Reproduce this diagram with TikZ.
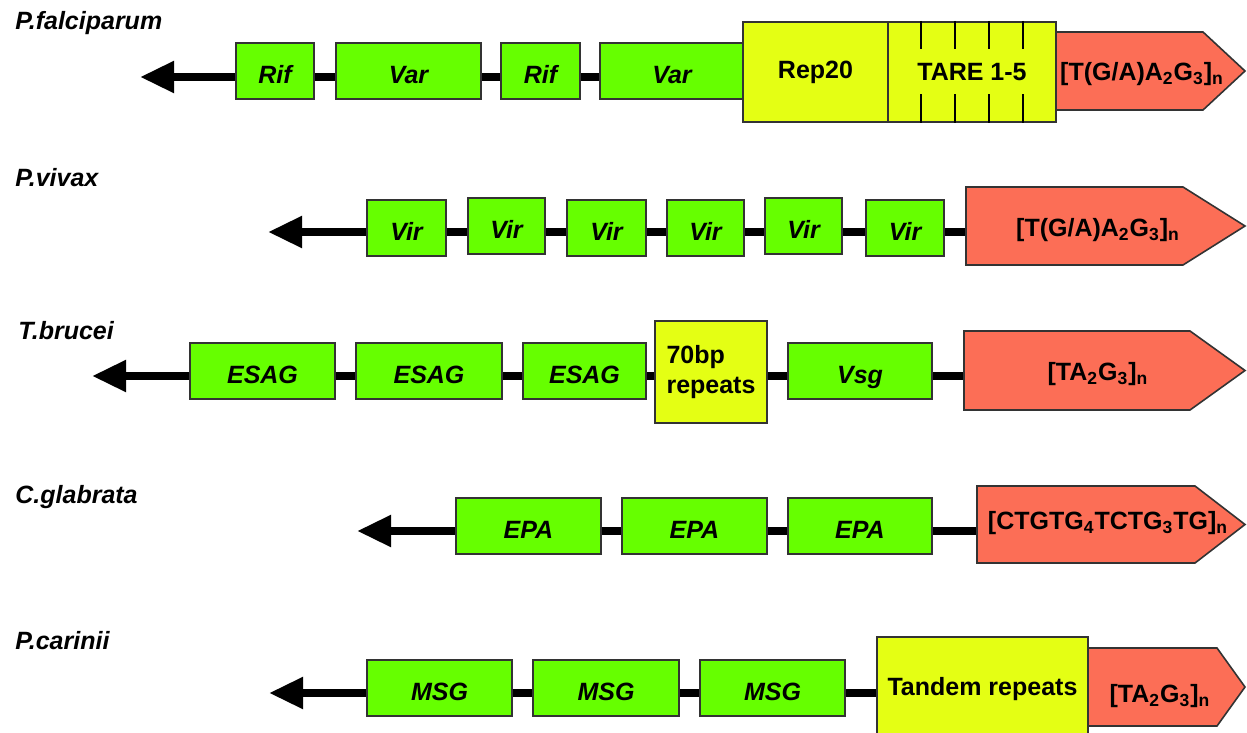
\documentclass[tikz,border=0pt]{standalone}
\usepackage{fontspec}
\setmainfont{Liberation Sans}
\usetikzlibrary{arrows.meta,calc,backgrounds}
\definecolor{genegreen}{RGB}{102,255,0}
\definecolor{repyellow}{RGB}{228,255,20}
\definecolor{telored}{RGB}{252,110,86}
\newcommand{\telrep}[1]{[#1]\textsubscript{n}}

\begin{document}
\begin{tikzpicture}[x=0.5pt,y=-0.5pt,
    species/.style={anchor=base west, inner sep=0pt, font=\fontsize{12.5}{15}\selectfont\bfseries\itshape},
    gene/.style={draw=black!80, line width=1pt, fill=genegreen, inner sep=0pt, minimum height=28pt,
        text height=12.5pt, text depth=0pt, font=\fontsize{12.5}{15}\selectfont\bfseries\itshape},
    repeatbox/.style={draw=black!80, line width=1pt, fill=repyellow, inner sep=0pt,
        font=\fontsize{12.5}{15}\selectfont\bfseries},
    telo/.style={draw=black!80, line width=0.8pt, fill=telored},
    telotext/.style={inner sep=0pt, font=\fontsize{12.5}{15}\selectfont\bfseries},
    backbone/.style={line width=4pt, black},
    chromend/.style={backbone, -{Triangle[length=17pt,width=15pt]}}]
    \useasboundingbox (0,0) rectangle (1247,733);

    % P.falciparum
    \node[species] (s1) at (15,30) {P.falciparum};
    \coordinate (a1) at (140,77);
    \node[gene, minimum width=39pt]   (g11) at (275,71)   {Rif};
    \node[gene, minimum width=72.5pt] (g12) at (408.5,71) {Var};
    \node[gene, minimum width=39.5pt] (g13) at (540.5,71) {Rif};
    \node[gene, minimum width=72pt]   (g14) at (672,71)   {Var};
    \node[repeatbox, minimum width=72.5pt, minimum height=50pt] (rep1) at (815.5,72) {Rep20};
    \node[repeatbox, minimum width=84pt, minimum height=50pt] (tare) at (972,72) {TARE 1-5};
    \foreach \t in {1,...,4} {
        \draw[line width=0.8pt] ($(tare.north west)!\t/5!(tare.north east)$) -- +(0,28);
        \draw[line width=0.8pt] ($(tare.south west)!\t/5!(tare.south east)$) -- +(0,-29);
    }
    \draw[telo] (1056,32) -- (1203,32) -- (1245,71) -- (1203,110) -- (1056,110) -- cycle;
    \node[telotext] (t1) at (1142,74) {\telrep{T(G/A)A\textsubscript{2}G\textsubscript{3}}};
    \begin{scope}[on background layer]
        \draw[chromend] (g11.west |- a1) -- (a1);
        \draw[backbone] (g11.east |- a1) -- (g12.west |- a1);
        \draw[backbone] (g12.east |- a1) -- (g13.west |- a1);
        \draw[backbone] (g13.east |- a1) -- (g14.west |- a1);
    \end{scope}

    % P.vivax
    \node[species] (s2) at (15,186) {P.vivax};
    \coordinate (a2) at (268,232);
    \node[gene, minimum width=39.5pt] (v1) at (406.5,228) {Vir};
    \node[gene, minimum width=38.5pt] (v2) at (506.5,225.5) {Vir};
    \node[gene, minimum width=39.5pt] (v3) at (606.5,228) {Vir};
    \node[gene, minimum width=38.5pt] (v4) at (705.5,228) {Vir};
    \node[gene, minimum width=38.5pt] (v5) at (803.5,225.5) {Vir};
    \node[gene, minimum width=39pt]   (v6) at (905,228)   {Vir};
    \draw[telo] (966,187) -- (1183,187) -- (1245,226) -- (1183,265) -- (966,265) -- cycle;
    \coordinate (r2) at (966,232);
    \node[telotext] (t2) at (1098,230) {\telrep{T(G/A)A\textsubscript{2}G\textsubscript{3}}};
    \begin{scope}[on background layer]
        \draw[chromend] (v1.west |- a2) -- (a2);
        \draw[backbone] (v1.east |- a2) -- (v2.west |- a2);
        \draw[backbone] (v2.east |- a2) -- (v3.west |- a2);
        \draw[backbone] (v3.east |- a2) -- (v4.west |- a2);
        \draw[backbone] (v4.east |- a2) -- (v5.west |- a2);
        \draw[backbone] (v5.east |- a2) -- (v6.west |- a2);
        \draw[backbone] (v6.east |- a2) -- (r2);
    \end{scope}

    % T.brucei
    \node[species] (s3) at (18,339) {T.brucei};
    \coordinate (a3) at (92,376);
    \node[gene, minimum width=72.5pt] (e1) at (262.5,370.5) {ESAG};
    \node[gene, minimum width=73pt]   (e2) at (429,370.5)   {ESAG};
    \node[gene, minimum width=61.5pt] (e3) at (584.5,370.5) {ESAG};
    \node[repeatbox, minimum width=56pt, minimum height=51pt, align=left] (bp) at (711,372) {70bp\\repeats};
    \node[gene, minimum width=72pt]   (vsg) at (860,370.5)  {Vsg};
    \draw[telo] (964,331) -- (1190,331) -- (1245,370.5) -- (1190,410) -- (964,410) -- cycle;
    \coordinate (r3) at (964,376);
    \node[telotext] (t3) at (1098,374) {\telrep{TA\textsubscript{2}G\textsubscript{3}}};
    \begin{scope}[on background layer]
        \draw[chromend] (e1.west |- a3) -- (a3);
        \draw[backbone] (e1.east |- a3) -- (e2.west |- a3);
        \draw[backbone] (e2.east |- a3) -- (e3.west |- a3);
        \draw[backbone] (e3.east |- a3) -- (bp.west |- a3);
        \draw[backbone] (bp.east |- a3) -- (vsg.west |- a3);
        \draw[backbone] (vsg.east |- a3) -- (r3);
    \end{scope}

    % C.glabrata
    \node[species] (s4) at (15,503) {C.glabrata};
    \coordinate (a4) at (357,531);
    \node[gene, minimum width=72.5pt] (p1) at (528.5,525.5) {EPA};
    \node[gene, minimum width=72.5pt] (p2) at (694.5,525.5) {EPA};
    \node[gene, minimum width=72pt]   (p3) at (860,525.5)   {EPA};
    \draw[telo] (977,486) -- (1195,486) -- (1245,524.5) -- (1195,563) -- (977,563) -- cycle;
    \coordinate (r4) at (977,531);
    \node[telotext] (t4) at (1108,523) {\telrep{CTGTG\textsubscript{4}TCTG\textsubscript{3}TG}};
    \begin{scope}[on background layer]
        \draw[chromend] (p1.west |- a4) -- (a4);
        \draw[backbone] (p1.east |- a4) -- (p2.west |- a4);
        \draw[backbone] (p2.east |- a4) -- (p3.west |- a4);
        \draw[backbone] (p3.east |- a4) -- (r4);
    \end{scope}

    % P.carinii
    \node[species] (s5) at (15,649) {P.carinii};
    \coordinate (a5) at (269,693);
    \node[gene, minimum width=72.5pt] (m1) at (439.5,687.5) {MSG};
    \node[gene, minimum width=73pt]   (m2) at (606,687.5)   {MSG};
    \node[gene, minimum width=72.5pt] (m3) at (772.5,687.5) {MSG};
    \node[repeatbox, minimum width=105.5pt, minimum height=52pt] (tand) at (982.5,689) {Tandem repeats};
    \draw[telo] (1088,648) -- (1217,648) -- (1245,687) -- (1217,726) -- (1088,726) -- cycle;
    \node[telotext] (t5) at (1160,696) {\telrep{TA\textsubscript{2}G\textsubscript{3}}};
    \begin{scope}[on background layer]
        \draw[chromend] (m1.west |- a5) -- (a5);
        \draw[backbone] (m1.east |- a5) -- (m2.west |- a5);
        \draw[backbone] (m2.east |- a5) -- (m3.west |- a5);
        \draw[backbone] (m3.east |- a5) -- (tand.west |- a5);
    \end{scope}
\end{tikzpicture}
\end{document}
